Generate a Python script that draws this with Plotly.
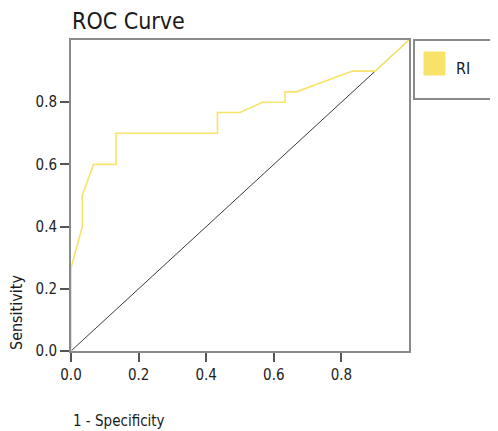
import plotly.graph_objects as go

# ROC curve points (1 - Specificity, Sensitivity)
fpr = [0.0, 0.0, 0.0333, 0.0333, 0.0667, 0.1333, 0.1333, 0.4333, 0.4333, 0.5,
       0.5667, 0.6333, 0.6333, 0.6667, 0.8333, 0.9, 1.0]
tpr = [0.0, 0.2667, 0.4, 0.5, 0.6, 0.6, 0.7, 0.7, 0.7667, 0.7667,
       0.8, 0.8, 0.8333, 0.8333, 0.9, 0.9, 1.0]
ref_x = [0.0, 1.0]
ref_y = [0.0, 1.0]
tick_vals = [0.0, 0.2, 0.4, 0.6, 0.8]
tick_text = ["0.0", "0.2", "0.4", "0.6", "0.8"]
series_name = "RI"

YELLOW = "#F7E36A"
FONT = "DejaVu Sans Condensed"

# plot area in page pixels: left 71, right 409, top 40, bottom 351 (page has 8px body offset)
PL, PR, PT, PB = 71, 409, 40, 351
PW, PH = PR - PL, PB - PT


def px(x):
    return (x - PL) / PW


def py(y):
    return (PB - y) / PH


fig = go.Figure()
fig.add_trace(go.Scatter(x=ref_x, y=ref_y, mode="lines",
                         line=dict(color="#3a3a3a", width=1), showlegend=False,
                         hoverinfo="skip"))
fig.add_trace(go.Scatter(x=fpr, y=tpr, mode="lines", name=series_name,
                         line=dict(color=YELLOW, width=1.6), showlegend=False))

axis_common = dict(range=[0, 1], showgrid=False, zeroline=False,
                   showline=True, linecolor="#8a8a8a", linewidth=2, mirror=True,
                   ticks="outside", ticklen=9, tickwidth=1.5, tickcolor="#555555",
                   tickvals=tick_vals, ticktext=tick_text,
                   tickfont=dict(family=FONT, size=15, color="#222222"))

fig.update_layout(
    width=498 - 8, height=431 - 8,
    margin=dict(l=PL - 8, r=498 - PR, t=PT - 8, b=431 - PB),
    paper_bgcolor="white", plot_bgcolor="white",
    xaxis=axis_common, yaxis=axis_common,
    showlegend=False,
    shapes=[
        dict(type="rect", xref="paper", yref="paper",
             x0=px(414), x1=px(530), y0=py(99), y1=py(40),
             line=dict(color="#8a8a8a", width=2), fillcolor="white"),
        dict(type="rect", xref="paper", yref="paper",
             x0=px(424), x1=px(445), y0=py(75), y1=py(52),
             line=dict(color=YELLOW, width=1), fillcolor=YELLOW),
    ],
    annotations=[
        dict(text="ROC Curve", xref="paper", yref="paper",
             x=px(70), y=py(21), xanchor="left", yanchor="middle",
             showarrow=False, font=dict(family=FONT, size=23, color="#1a1a1a")),
        dict(text=series_name, xref="paper", yref="paper",
             x=px(454), y=py(69), xanchor="left", yanchor="middle",
             showarrow=False, font=dict(family=FONT, size=16, color="#1a1a1a")),
        dict(text="Sensitivity", xref="paper", yref="paper", textangle=-90,
             x=px(16), y=py(313), xanchor="center", yanchor="middle",
             showarrow=False, font=dict(family=FONT, size=16, color="#1a1a1a")),
        dict(text="1 - Specificity", xref="paper", yref="paper",
             x=px(71), y=py(421), xanchor="left", yanchor="middle",
             showarrow=False, font=dict(family=FONT, size=15, color="#1a1a1a")),
    ],
)

fig.write_html("out.html")
